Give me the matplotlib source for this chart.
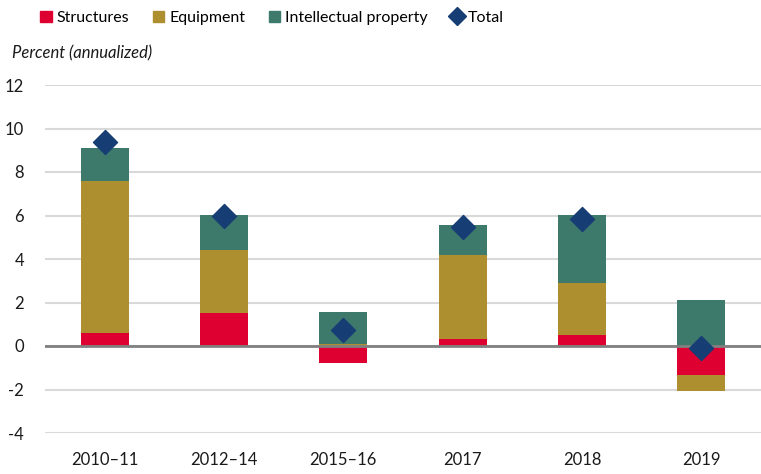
import numpy as np
import matplotlib
matplotlib.use("Agg")
from matplotlib import pyplot as plt
from matplotlib.lines import Line2D
from matplotlib.patches import Patch

plt.rcParams['font.family'] = ['Lato', 'DejaVu Sans']
plt.rcParams['axes.unicode_minus'] = False

periods = ['2010–11', '2012–14', '2015–16', '2017', '2018', '2019']
structures = [0.6, 1.5, -0.8, 0.3, 0.5, -1.35]
equipment = [7.0, 2.9, 0.1, 3.9, 2.4, -0.7]
intellectual = [1.5, 1.6, 1.45, 1.35, 3.1, 2.1]
total = [9.4, 6.0, 0.75, 5.45, 5.85, -0.1]

c_struct = '#DD0031'
c_equip = '#AD8F30'
c_ip = '#3D7A6B'
c_total = '#163D74'

fig = plt.figure(figsize=(7.61, 4.74), dpi=100)
ax = fig.add_axes([45/761, 1-433/474, 716/761, (433-85)/474])

x = np.arange(len(periods))
s = np.array(structures)
e = np.array(equipment)
ip = np.array(intellectual)

# positives stack up from zero, negatives stack down
pos_base = np.zeros(len(x))
neg_base = np.zeros(len(x))
for vals, col in [(s, c_struct), (e, c_equip), (ip, c_ip)]:
    bottoms = np.where(vals >= 0, pos_base, neg_base)
    ax.bar(x, vals, 0.4, bottom=bottoms, color=col, zorder=3)
    pos_base = pos_base + np.where(vals >= 0, vals, 0)
    neg_base = neg_base + np.where(vals < 0, vals, 0)

ax.scatter(x, total, marker='D', s=150, color=c_total, zorder=4)

ax.set_xlim(-0.5, 5.5)
ax.set_ylim(-4, 12)
ax.set_yticks(np.arange(-4, 13, 2))
ax.set_xticks(x)
ax.set_xticklabels(periods)
ax.grid(axis='y', color='#d9d9d9', linewidth=1.5, zorder=0)
ax.axhline(0, color='#808080', linewidth=2, zorder=3.5)
for sp in ax.spines.values():
    sp.set_visible(False)
ax.tick_params(axis='both', length=0, labelsize=12, colors='#1a1a1a')
ax.tick_params(axis='y', pad=15)
ax.tick_params(axis='x', pad=14)

fig.text(12/761, 1-53/474, 'Percent (annualized)', style='italic', fontsize=12,
         va='center', ha='left', color='#1a1a1a')

handles = [
    Patch(color=c_struct, label='Structures'),
    Patch(color=c_equip, label='Equipment'),
    Patch(color=c_ip, label='Intellectual property'),
    Line2D([], [], marker='D', color=c_total, linestyle='none', markersize=9, label='Total'),
]
fig.legend(handles=handles, loc='center', bbox_to_anchor=(272/761, 1-18/474), ncol=4,
           frameon=False, fontsize=11.5, handlelength=0.7, handleheight=0.7,
           handletextpad=0.3, columnspacing=1.5, borderpad=0)

fig.savefig('out.png', dpi=100)
